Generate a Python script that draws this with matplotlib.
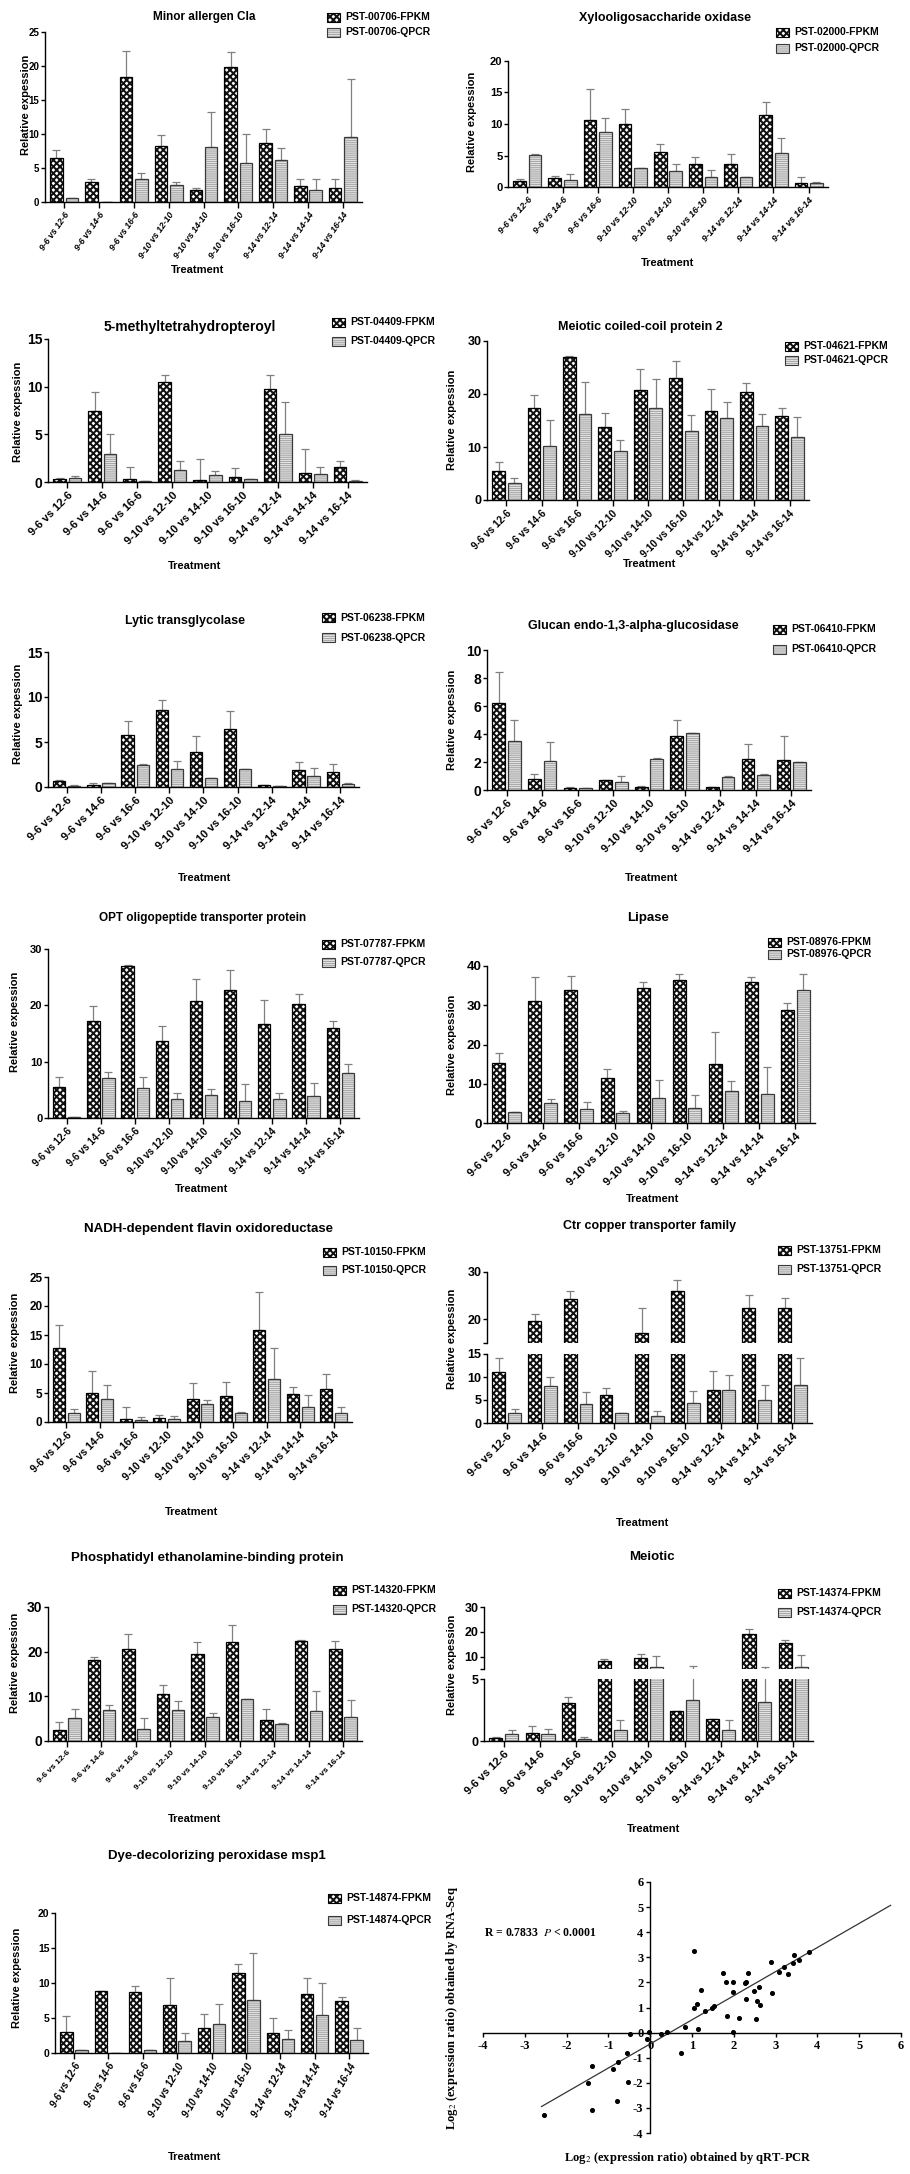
import numpy as np
import matplotlib
matplotlib.use("Agg")
import matplotlib.pyplot as plt
from matplotlib.patches import Rectangle

# ---------------- data ----------------
categories = ["9-6 vs 12-6", "9-6 vs 14-6", "9-6 vs 16-6", "9-10 vs 12-10", "9-10 vs 14-10",
              "9-10 vs 16-10", "9-14 vs 12-14", "9-14 vs 14-14", "9-14 vs 16-14"]

# Minor allergen Cla (PST-00706)
p00706_fpkm = [6.5, 2.9, 18.4, 8.3, 1.8, 19.8, 8.7, 2.4, 2.0]
p00706_fpkm_top = [7.6, 3.4, 22.2, 9.9, 2.05, 22.0, 10.8, 3.4, 3.4]
p00706_qpcr = [0.55, 0.05, 3.4, 2.5, 8.1, 5.7, 6.25, 1.8, 9.6]
p00706_qpcr_top = [0.6, 0.06, 4.25, 2.9, 13.3, 10.0, 8.0, 3.4, 18.1]

# Xylooligosaccharide oxidase (PST-02000)
p02000_fpkm = [0.95, 1.43, 10.7, 10.0, 5.6, 3.7, 3.6, 11.5, 0.7]
p02000_fpkm_top = [1.27, 1.7, 15.5, 12.4, 6.8, 4.8, 5.3, 13.5, 1.6]
p02000_qpcr = [5.15, 1.15, 8.7, 2.97, 2.55, 1.65, 1.55, 5.45, 0.7]
p02000_qpcr_top = [5.2, 2.0, 11.0, 3.0, 3.7, 2.7, 1.6, 7.7, 0.8]

# 5-methyltetrahydropteroyl (PST-04409)
p04409_fpkm = [0.28, 7.5, 0.35, 10.5, 0.2, 0.56, 9.8, 0.97, 1.57]
p04409_fpkm_top = [0.42, 9.4, 1.57, 11.24, 2.37, 1.46, 11.24, 3.41, 2.23]
p04409_qpcr = [0.38, 2.96, 0.1, 1.25, 0.7, 0.3, 5.05, 0.8, 0.14]
p04409_qpcr_top = [0.63, 5.05, 0.12, 2.19, 1.11, 0.32, 8.35, 1.53, 0.16]

# Meiotic coiled-coil protein 2 (PST-04621)
p04621_fpkm = [5.5, 17.3, 27.0, 13.8, 20.75, 22.96, 16.8, 20.3, 15.85]
p04621_fpkm_top = [7.2, 19.8, 27.1, 16.4, 24.65, 26.2, 20.9, 22.1, 17.3]
p04621_qpcr = [3.2, 10.1, 16.2, 9.25, 17.4, 13.1, 15.4, 14.0, 11.8]
p04621_qpcr_top = [4.15, 15.1, 22.3, 11.3, 22.8, 16.0, 18.5, 16.2, 15.6]

# Lytic transglycolase (PST-06238)
p06238_fpkm = [0.7, 0.26, 5.8, 8.55, 3.9, 6.4, 0.22, 1.85, 1.7]
p06238_fpkm_top = [0.8, 0.5, 7.37, 9.63, 5.67, 8.44, 0.25, 2.78, 2.56]
p06238_qpcr = [0.15, 0.48, 2.4, 2.0, 1.04, 2.0, 0.11, 1.18, 0.33]
p06238_qpcr_top = [0.17, 0.5, 2.6, 2.9, 1.05, 2.0, 0.12, 2.1, 0.4]

# Glucan endo-1,3-alpha-glucosidase (PST-06410)
p06410_fpkm = [6.19, 0.81, 0.17, 0.69, 0.19, 3.88, 0.21, 2.19, 2.17]
p06410_fpkm_top = [8.45, 1.17, 0.18, 0.7, 0.31, 4.98, 0.22, 3.26, 3.83]
p06410_qpcr = [3.52, 2.1, 0.12, 0.6, 2.21, 4.07, 0.95, 1.1, 2.02]
p06410_qpcr_top = [4.98, 3.43, 0.13, 1.0, 2.31, 4.1, 0.97, 1.12, 2.03]

# OPT oligopeptide transporter protein (PST-07787)
p07787_fpkm = [5.5, 17.2, 27.0, 13.7, 20.7, 22.8, 16.75, 20.3, 15.9]
p07787_fpkm_top = [7.3, 19.8, 27.1, 16.3, 24.7, 26.2, 20.9, 22.1, 17.3]
p07787_qpcr = [0.18, 7.08, 5.25, 3.3, 4.0, 3.07, 3.3, 3.95, 7.96]
p07787_qpcr_top = [0.2, 8.14, 7.3, 4.37, 5.2, 5.96, 4.42, 6.2, 9.56]

# Lipase (PST-08976)
p08976_fpkm = [15.27, 31.2, 33.9, 11.43, 34.5, 36.5, 15.0, 36.0, 28.8]
p08976_fpkm_top = [17.74, 37.3, 37.4, 13.8, 35.9, 37.95, 23.1, 37.3, 30.6]
p08976_qpcr = [2.73, 5.1, 3.5, 2.64, 6.4, 3.75, 8.27, 7.42, 33.9]
p08976_qpcr_top = [2.9, 6.14, 5.3, 3.07, 10.9, 7.16, 10.75, 14.16, 37.95]

# NADH-dependent flavin oxidoreductase (PST-10150)
p10150_fpkm = [12.8, 4.96, 0.58, 0.63, 4.03, 4.44, 15.8, 4.9, 5.7]
p10150_fpkm_top = [16.65, 8.76, 2.65, 1.21, 6.8, 6.92, 22.4, 6.1, 8.3]
p10150_qpcr = [1.56, 3.98, 0.4, 0.52, 3.05, 1.56, 7.38, 2.54, 1.5]
p10150_qpcr_top = [2.3, 6.46, 0.8, 0.98, 3.8, 1.73, 12.68, 4.61, 2.65]

# Ctr copper transporter family (PST-13751)
p13751_fpkm = [11.1, 19.6, 24.4, 6.1, 17.2, 26.0, 7.2, 22.4, 22.3]
p13751_fpkm_top = [14.1, 21.2, 26.0, 7.7, 22.4, 28.3, 11.2, 25.2, 24.6]
p13751_qpcr = [2.1, 8.0, 4.2, 2.1, 1.5, 4.4, 7.2, 4.9, 8.2]
p13751_qpcr_top = [3.0, 10.1, 6.7, 2.2, 2.6, 6.9, 10.4, 8.2, 14.2]

# Phosphatidyl ethanolamine-binding protein (PST-14320)
p14320_fpkm = [2.47, 18.1, 20.7, 10.6, 19.37, 22.2, 4.79, 22.44, 20.64]
p14320_fpkm_top = [4.26, 18.8, 23.9, 12.57, 22.06, 25.9, 7.25, 22.66, 22.3]
p14320_qpcr = [5.16, 7.03, 2.62, 6.96, 5.39, 9.35, 3.89, 6.66, 5.39]
p14320_qpcr_top = [7.25, 8.0, 5.09, 8.9, 6.28, 9.4, 4.1, 11.3, 9.12]

# Meiotic (PST-14374)
p14374_fpkm = [0.24, 0.68, 3.03, 8.27, 9.33, 2.4, 1.76, 19.07, 15.33]
p14374_fpkm_top = [0.35, 1.19, 3.57, 9.07, 10.93, 2.42, 1.78, 21.2, 16.67]
p14374_qpcr = [0.6, 0.6, 0.19, 0.92, 6.0, 3.3, 0.92, 3.14, 6.0]
p14374_qpcr_top = [0.92, 0.95, 0.32, 1.68, 10.4, 6.4, 1.73, 6.0, 10.67]

# Dye-decolorizing peroxidase msp1 (PST-14874)
p14874_fpkm = [3.0, 8.85, 8.66, 6.84, 3.64, 11.48, 2.82, 8.42, 7.37]
p14874_fpkm_top = [5.3, 8.9, 9.6, 10.67, 5.55, 12.73, 5.07, 10.67, 8.04]
p14874_qpcr = [0.43, 0.02, 0.43, 1.77, 4.16, 7.6, 2.06, 5.45, 1.91]
p14874_qpcr_top = [0.45, 0.03, 0.45, 2.92, 6.99, 14.3, 3.35, 9.95, 3.59]

# Correlation scatter: log2 ratio by qRT-PCR (x) vs RNA-Seq (y)
scatter_qpcr = [1.04, 1.22, 1.74, 2.34, 1.81, 1.97, 2.27, 2.29, 1.99, 1.04, 1.11, 1.32,
                1.49, 1.52, 1.84, 2.13, 2.53, 2.48, 2.61, 2.30, 2.55, 2.63, 2.92, 2.88,
                3.09, 3.20, 3.30, 3.41, 3.43, 3.55, 3.80, 1.15, 1.98, 0.83, 0.39, 0.25,
                -0.07, -0.49, -0.56, 0.74, -0.77, -0.88, -1.39, -1.49, -0.53, -0.79,
                -1.39, -2.55, -0.03]
scatter_rnaseq = [3.24, 1.71, 2.36, 2.36, 2.03, 2.03, 1.96, 2.00, 1.60, 1.00, 1.13, 0.87,
                  1.00, 1.07, 0.67, 0.57, 0.53, 1.67, 1.80, 1.33, 1.27, 1.09, 1.56, 2.83,
                  2.43, 2.60, 2.33, 2.76, 3.10, 2.89, 3.20, 0.13, 0.04, 0.23, 0.04, -0.07,
                  -0.27, -0.04, -0.80, -0.80, -1.17, -1.47, -1.33, -2.00, -1.96, -2.73,
                  -3.10, -3.30, 0.04]
fit_slope = 0.96
fit_intercept = -0.45
fit_x_range = [-2.6, 5.75]
corr_text = "R = 0.7833"
p_text = "< 0.0001"

# ---------------- figure ----------------
W, H = 910, 2174
plt.rcParams['font.family'] = ['Liberation Sans', 'DejaVu Sans']
plt.rcParams['hatch.linewidth'] = 1.0
plt.rcParams['mathtext.fontset'] = 'stix'
fig = plt.figure(figsize=(W / 100, H / 100), dpi=100)
fig.patch.set_facecolor('white')

SANS = ['Liberation Sans', 'DejaVu Sans']
FPKM_FACE, FPKM_HATCH, FPKM_EDGE = 'white', '#111111', 'black'
QPCR_FACE, QPCR_HATCH, QPCR_EDGE = '#e6e6e6', '#a8a8a8', '#3a3a3a'
FPKM_PAT, QPCR_PAT = 'xxxxx', '--------'
FPKM_HLW, QPCR_HLW = 1.45, 0.8
ERR_COLOR = '#808080'


def add_ax(l, t, r, b):
    return fig.add_axes([l / W, 1 - b / H, (r - l) / W, (b - t) / H])


def draw_bars(ax, f, ft, q, qt):
    x = np.arange(len(categories))
    w, off = 0.36, 0.22
    f, ft, q, qt = map(np.asarray, (f, ft, q, qt))
    with plt.rc_context({'hatch.linewidth': FPKM_HLW}):
        ax.bar(x - off, f, w, facecolor=FPKM_FACE, edgecolor=FPKM_HATCH, hatch=FPKM_PAT,
               linewidth=0, zorder=2)
    ax.bar(x - off, f, w, fill=False, edgecolor=FPKM_EDGE, linewidth=0.9, zorder=3)
    with plt.rc_context({'hatch.linewidth': QPCR_HLW}):
        ax.bar(x + off, q, w, facecolor=QPCR_FACE, edgecolor=QPCR_HATCH, hatch=QPCR_PAT,
               linewidth=0, zorder=2)
    ax.bar(x + off, q, w, fill=False, edgecolor=QPCR_EDGE, linewidth=0.9, zorder=3)
    for xs, v, t in ((x - off, f, ft), (x + off, q, qt)):
        ax.errorbar(xs, v, yerr=[np.zeros_like(v), np.maximum(t - v, 0)], fmt='none',
                    ecolor=ERR_COLOR, elinewidth=0.9, capsize=3, capthick=0.9, zorder=1.5)


def style_ax(ax, ylim, yticks, ylabels=None, yfs=9, show_x=True, xfs=7.5, rot=45, italic=False):
    ax.set_xlim(-0.55, 8.55)
    ax.set_ylim(*ylim)
    ax.set_facecolor('none')
    for s in ('top', 'right'):
        ax.spines[s].set_visible(False)
    ax.spines['left'].set_linewidth(1.0)
    ax.spines['bottom'].set_linewidth(1.0)
    if ylabels is None:
        ylabels = [f"{t:g}" for t in yticks]
    ax.set_yticks(yticks, labels=ylabels, fontsize=yfs, fontweight='bold', family=SANS)
    ax.tick_params(axis='y', length=3, width=1, pad=1)
    if show_x:
        ax.set_xticks(np.arange(len(categories)), labels=categories, rotation=rot, ha='right',
                      va='top', rotation_mode='anchor', fontsize=xfs, fontweight='bold',
                      fontstyle='italic' if italic else 'normal', family=SANS)
        ax.tick_params(axis='x', length=4, width=1, pad=2)
    else:
        ax.set_xticks([])
        ax.spines['bottom'].set_visible(False)


def legend(x, y1, y2, gene, fs=7.5):
    for y, kind in ((y1, 'FPKM'), (y2, 'QPCR')):
        rect_xy = (x / W, 1 - (y + 4.5) / H)
        rw, rh = 13 / W, 9 / H
        if kind == 'FPKM':
            with plt.rc_context({'hatch.linewidth': FPKM_HLW}):
                fig.add_artist(Rectangle(rect_xy, rw, rh, transform=fig.transFigure, facecolor=FPKM_FACE,
                                         edgecolor=FPKM_HATCH, hatch=FPKM_PAT, linewidth=0))
            fig.add_artist(Rectangle(rect_xy, rw, rh, transform=fig.transFigure, fill=False,
                                     edgecolor=FPKM_EDGE, linewidth=0.8))
        else:
            with plt.rc_context({'hatch.linewidth': QPCR_HLW}):
                fig.add_artist(Rectangle(rect_xy, rw, rh, transform=fig.transFigure, facecolor=QPCR_FACE,
                                         edgecolor=QPCR_HATCH, hatch=QPCR_PAT, linewidth=0))
            fig.add_artist(Rectangle(rect_xy, rw, rh, transform=fig.transFigure, fill=False,
                                     edgecolor=QPCR_EDGE, linewidth=0.8))
        fig.text((x + 18) / W, 1 - y / H, f"{gene}-{kind}", fontsize=fs, fontweight='bold',
                 va='center', ha='left', family=SANS)


def ftext(x, y, s, **kw):
    fam = kw.pop('family', SANS)
    fig.text(x / W, 1 - y / H, s, family=fam, **kw)


def panel(box, data, ylim, yticks, title, title_xy, title_fs, gene, leg, treat_xy, ylab_xy,
          yfs=9, xfs=7.5, rot=45, italic=False, leg_fs=7.5):
    ax = add_ax(*box)
    draw_bars(ax, *data)
    style_ax(ax, ylim, yticks, yfs=yfs, xfs=xfs, rot=rot, italic=italic)
    ftext(*title_xy, title, fontsize=title_fs, fontweight='bold', ha='center', va='center')
    legend(leg[0], leg[1], leg[2], gene, fs=leg_fs)
    ftext(*treat_xy, "Treatment", fontsize=8, fontweight='bold', ha='center', va='center')
    ftext(*ylab_xy, "Relative expession", fontsize=8, fontweight='bold', ha='center', va='center',
          rotation=90)
    return ax


# Row 1
panel((45, 32, 362, 202), (p00706_fpkm, p00706_fpkm_top, p00706_qpcr, p00706_qpcr_top),
      (0, 25), [0, 5, 10, 15, 20, 25], "Minor allergen Cla", (204, 17), 8.5, "PST-00706",
      (327, 17, 32), (198, 270), (26, 105), yfs=7, xfs=6.3, rot=55, italic=True, leg_fs=7.5)
panel((508, 61, 828, 187), (p02000_fpkm, p02000_fpkm_top, p02000_qpcr, p02000_qpcr_top),
      (0, 20), [0, 5, 10, 15, 20], "Xylooligosaccharide oxidase", (665, 18), 9, "PST-02000",
      (776, 32, 48), (668, 263), (472, 122), yfs=8, xfs=6.5, rot=48, italic=True, leg_fs=7.5)
# Row 2
panel((48, 339, 367, 482), (p04409_fpkm, p04409_fpkm_top, p04409_qpcr, p04409_qpcr_top),
      (0, 15), [0, 5, 10, 15], "5-methyltetrahydropteroyl", (190, 327), 10, "PST-04409",
      (332, 322, 341), (195, 566), (18, 412), yfs=10, xfs=8)
panel((487, 341, 809, 500), (p04621_fpkm, p04621_fpkm_top, p04621_qpcr, p04621_qpcr_top),
      (0, 30), [0, 10, 20, 30], "Meiotic coiled-coil protein 2", (640, 327), 9, "PST-04621",
      (785, 346, 360), (650, 564), (452, 420), yfs=9, xfs=7.2)
# Row 3
panel((48, 652, 359, 787), (p06238_fpkm, p06238_fpkm_top, p06238_qpcr, p06238_qpcr_top),
      (0, 15), [0, 5, 10, 15], "Lytic transglycolase", (185, 621), 9, "PST-06238",
      (322, 618, 638), (205, 878), (18, 714), yfs=10, xfs=8)
panel((487, 650, 811, 790), (p06410_fpkm, p06410_fpkm_top, p06410_qpcr, p06410_qpcr_top),
      (0, 10), [0, 2, 4, 6, 8, 10], "Glucan endo-1,3-alpha-glucosidase", (633, 626), 9, "PST-06410",
      (773, 629, 649), (652, 878), (452, 720), yfs=10, xfs=8)
# Row 4
panel((48, 949, 359, 1118), (p07787_fpkm, p07787_fpkm_top, p07787_qpcr, p07787_qpcr_top),
      (0, 30), [0, 10, 20, 30], "OPT oligopeptide transporter protein", (203, 918), 8.5, "PST-07787",
      (322, 944, 962), (202, 1189), (15, 1022), yfs=8, xfs=7)
panel((487, 966, 815, 1123), (p08976_fpkm, p08976_fpkm_top, p08976_qpcr, p08976_qpcr_top),
      (0, 40), [0, 10, 20, 30, 40], "Lipase", (648, 918), 9.5, "PST-08976",
      (768, 942, 954), (653, 1199), (452, 1045), yfs=9.5, xfs=8)
# Row 5
panel((48, 1277, 352, 1422), (p10150_fpkm, p10150_fpkm_top, p10150_qpcr, p10150_qpcr_top),
      (0, 25), [0, 5, 10, 15, 20, 25], "NADH-dependent flavin oxidoreductase", (208, 1229), 9.5,
      "PST-10150", (323, 1252, 1270), (192, 1512), (15, 1343), yfs=8.5, xfs=7.5)

# Ctr copper transporter family: broken axis
ax_t = add_ax(487, 1272, 812, 1343)
draw_bars(ax_t, p13751_fpkm, p13751_fpkm_top, p13751_qpcr, p13751_qpcr_top)
style_ax(ax_t, (15, 30), [15, 20, 30], ['', '20', '30'], yfs=9, show_x=False)
ax_b = add_ax(487, 1354, 812, 1423)
draw_bars(ax_b, p13751_fpkm, p13751_fpkm_top, p13751_qpcr, p13751_qpcr_top)
style_ax(ax_b, (0, 15), [0, 5, 10, 15], yfs=9, xfs=8)
ftext(650, 1226, "Ctr copper transporter family", fontsize=9, fontweight='bold', ha='center', va='center')
legend(778, 1250, 1269, "PST-13751")
ftext(643, 1523, "Treatment", fontsize=8, fontweight='bold', ha='center', va='center')
ftext(452, 1339, "Relative expession", fontsize=8, fontweight='bold', ha='center', va='center', rotation=90)

# Row 6
panel((48, 1607, 362, 1741), (p14320_fpkm, p14320_fpkm_top, p14320_qpcr, p14320_qpcr_top),
      (0, 30), [0, 10, 20, 30], "Phosphatidyl ethanolamine-binding protein", (207, 1558), 9.5,
      "PST-14320", (333, 1590, 1609), (195, 1819), (15, 1663), yfs=10, xfs=6)

# Meiotic: broken axis
ax_t = add_ax(484, 1607, 813, 1669)
draw_bars(ax_t, p14374_fpkm, p14374_fpkm_top, p14374_qpcr, p14374_qpcr_top)
style_ax(ax_t, (5, 30), [5, 10, 20, 30], ['', '10', '20', '30'], yfs=9, show_x=False)
ax_b = add_ax(484, 1679, 813, 1741)
draw_bars(ax_b, p14374_fpkm, p14374_fpkm_top, p14374_qpcr, p14374_qpcr_top)
style_ax(ax_b, (0, 5), [0, 5], yfs=9, xfs=8)
ftext(652, 1557, "Meiotic", fontsize=9.5, fontweight='bold', ha='center', va='center')
legend(778, 1593, 1612, "PST-14374")
ftext(654, 1829, "Treatment", fontsize=8, fontweight='bold', ha='center', va='center')
ftext(452, 1665, "Relative expession", fontsize=8, fontweight='bold', ha='center', va='center', rotation=90)

# Row 7
panel((55, 1913, 368, 2053), (p14874_fpkm, p14874_fpkm_top, p14874_qpcr, p14874_qpcr_top),
      (0, 20), [0, 5, 10, 15, 20], "Dye-decolorizing peroxidase msp1", (217, 1856), 9.5, "PST-14874",
      (328, 1898, 1920), (195, 2157), (17, 1978), yfs=7.5, xfs=7, rot=60, italic=True, leg_fs=7.5)

# Correlation scatter
SERIF = ['Liberation Serif', 'DejaVu Serif']
axs = add_ax(483, 1882, 901, 2133)
axs.set_xlim(-4, 6)
axs.set_ylim(-4, 6)
axs.set_facecolor('none')
for s in ('top', 'right'):
    axs.spines[s].set_visible(False)
axs.spines['left'].set_position(('data', 0))
axs.spines['bottom'].set_position(('data', 0))
axs.spines['left'].set_linewidth(1.0)
axs.spines['bottom'].set_linewidth(1.0)
ticks = list(range(-4, 7))
axs.set_xticks(ticks, labels=[str(t) for t in ticks], fontsize=9, fontweight='bold', family=SERIF)
axs.set_yticks(ticks, labels=[str(t) for t in ticks], fontsize=9, fontweight='bold', family=SERIF)
axs.tick_params(length=3, width=1, pad=2)
axs.scatter(scatter_qpcr, scatter_rnaseq, s=7, color='black', zorder=3)
fx = np.array(fit_x_range)
axs.plot(fx, fit_slope * fx + fit_intercept, color='#333333', linewidth=0.9)
ftext(484, 1933, corr_text + "  $\\it{P}$ " + p_text, fontsize=8.5, fontweight='bold', ha='left',
      va='center', family=SERIF)
ftext(452, 2008, "Log$_2$ (expression ratio) obtained by RNA-Seq", fontsize=9, fontweight='bold',
      ha='center', va='center', rotation=90, family=SERIF)
ftext(688, 2158, "Log$_2$ (expression ratio) obtained by qRT-PCR", fontsize=9, fontweight='bold',
      ha='center', va='center', family=SERIF)

fig.savefig("out.png", dpi=100, facecolor='white')
